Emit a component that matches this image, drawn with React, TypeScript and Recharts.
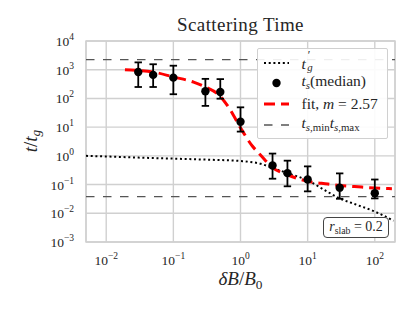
import React from 'react';
import {
  ComposedChart,
  CartesianGrid,
  ErrorBar,
  Line,
  ReferenceArea,
  ReferenceLine,
  Scatter,
  XAxis,
  YAxis,
} from 'recharts';

// median scattering times with their spread
const sampleX = [0.03, 0.05, 0.1, 0.3, 0.5, 1, 3, 5, 10, 30, 100];
const medianT = [830, 660, 530, 178, 167, 15.5, 0.46, 0.25, 0.15, 0.078, 0.05];
const lowerT = [250, 250, 140, 55, 98, 7, 0.16, 0.087, 0.058, 0.032, 0.033];
const upperT = [1800, 1550, 1380, 480, 470, 49, 1.2, 0.68, 0.43, 0.245, 0.15];

// fitted curve, m = 2.57
const fitX = [0.019, 0.05, 0.1, 0.2, 0.3, 0.5, 0.7, 1, 1.5, 2, 3, 5, 10, 20, 30, 50, 100, 180];
const fitT = [1000, 830, 560, 370, 250, 118, 41, 9.5, 2.2, 1.05, 0.39, 0.22, 0.13, 0.104, 0.092, 0.085, 0.076, 0.072];

// t'_g curve
const tgX = [0.005, 0.01, 0.03, 0.1, 0.3, 1, 2, 3, 5, 10, 20, 30, 50, 100, 190];
const tgT = [1.0, 0.95, 0.87, 0.8, 0.74, 0.66, 0.53, 0.38, 0.25, 0.14, 0.055, 0.033, 0.021, 0.0115, 0.0055];

// t_s,min / t_s,max
const tsMin = 0.038;
const tsMax = 2240;

const xTicks = [0.01, 0.1, 1, 10, 100];
const yTicks = [0.001, 0.01, 0.1, 1, 10, 100, 1000, 10000];

const scatterRows = sampleX.map((x, i) => ({
  x,
  y: medianT[i],
  err: [medianT[i] - lowerT[i], upperT[i] - medianT[i]],
}));
const fitRows = fitX.map((x, i) => ({ x, y: fitT[i] }));
const tgRows = tgX.map((x, i) => ({ x, y: tgT[i] }));

const SERIF = '"Liberation Serif", "DejaVu Serif", serif';
const TXT = '#262626';

function expLabel(v: number) {
  const e = Math.round(Math.log10(v));
  return e < 0 ? `\u2212${-e}` : String(e);
}

function XTick({ x, y, payload }: any) {
  return (
    <text x={x} y={y + 21} textAnchor="middle" fontFamily={SERIF} fontSize={13.5} fill={TXT}>
      10
      <tspan dy={-6} fontSize={9.5}>
        {expLabel(payload.value)}
      </tspan>
    </text>
  );
}

function YTick({ x, y, payload }: any) {
  return (
    <text x={x - 10} y={y + 5} textAnchor="end" fontFamily={SERIF} fontSize={13.5} fill={TXT}>
      10
      <tspan dy={-6} fontSize={9.5}>
        {expLabel(payload.value)}
      </tspan>
    </text>
  );
}

const dot = (p: any) => <circle cx={p.cx} cy={p.cy} r={4.2} fill="#000" />;

const sub: React.CSSProperties = { fontSize: '0.7em', verticalAlign: '-0.3em' };

export default function App() {
  return (
    <div style={{ position: 'absolute', left: 0, top: 0, width: 415, height: 312, background: '#fff' }}>
      <ComposedChart width={415} height={312} margin={{ top: 41, right: 20, bottom: 30, left: 0 }}>
        <CartesianGrid stroke="#d0d0d0" strokeWidth={1.4} />
        <XAxis
          dataKey="x"
          type="number"
          scale="log"
          domain={[0.005, 200]}
          ticks={xTicks}
          allowDataOverflow
          axisLine={false}
          tickLine={false}
          tickSize={0}
          height={40}
          tick={<XTick />}
          interval={0}
        />
        <YAxis
          dataKey="y"
          type="number"
          scale="log"
          domain={[0.001, 10000]}
          ticks={yTicks}
          allowDataOverflow
          axisLine={false}
          tickLine={false}
          tickSize={0}
          width={86}
          tick={<YTick />}
          interval={0}
        />
        <ReferenceArea x1={0.005} x2={200} y1={0.001} y2={10000} fill="none" stroke="#d0d0d0" strokeWidth={1.4} />
        <ReferenceLine y={tsMax} stroke="#555" strokeWidth={1.3} strokeDasharray="8.5 8.5" />
        <ReferenceLine y={tsMin} stroke="#555" strokeWidth={1.3} strokeDasharray="8.5 8.5" />
        <Line
          data={tgRows}
          dataKey="y"
          type="monotone"
          stroke="#000"
          strokeWidth={2}
          strokeDasharray="2 2.7"
          dot={false}
          isAnimationActive={false}
        />
        <Line
          data={fitRows}
          dataKey="y"
          type="monotone"
          stroke="#ff0000"
          strokeWidth={3}
          strokeDasharray="11 6"
          dot={false}
          isAnimationActive={false}
        />
        <Scatter data={scatterRows} dataKey="y" shape={dot} isAnimationActive={false}>
          <ErrorBar dataKey="err" direction="y" width={3.7} stroke="#000" strokeWidth={1.8} isAnimationActive={false} />
        </Scatter>
      </ComposedChart>

      <div
        style={{
          position: 'absolute',
          left: 86,
          width: 309,
          top: 14,
          textAlign: 'center',
          fontFamily: SERIF,
          fontSize: 19,
          letterSpacing: 0.4,
          color: TXT,
        }}
      >
        Scattering Time
      </div>

      <div
        style={{
          position: 'absolute',
          left: 86,
          width: 309,
          top: 268,
          textAlign: 'center',
          fontFamily: SERIF,
          fontSize: 19,
          color: TXT,
        }}
      >
        <i>δB</i>/<i>B</i>
        <span style={sub}>0</span>
      </div>

      <div
        style={{
          position: 'absolute',
          left: 32,
          top: 141,
          transform: 'translate(-50%, -50%) rotate(-90deg)',
          fontFamily: SERIF,
          fontSize: 19,
          color: TXT,
          whiteSpace: 'nowrap',
        }}
      >
        <i>t</i>/<i>t</i>
        <i style={sub}>g</i>
      </div>

      <div
        style={{
          position: 'absolute',
          left: 256.5,
          top: 47.5,
          width: 129,
          height: 89,
          background: 'rgba(255,255,255,0.9)',
          border: '1px solid #d0d0d0',
          borderRadius: 2,
          fontFamily: SERIF,
          fontSize: 15.5,
          color: TXT,
        }}
      >
        {[
          {
            icon: <line x1={4} y1={5} x2={29} y2={5} stroke="#000" strokeWidth={2} strokeDasharray="2 2.7" />,
            label: (
              <>
                <i>t</i>
                <span
                  style={{
                    position: 'relative',
                    display: 'inline-block',
                    width: '0.45em',
                    height: '1em',
                    marginLeft: '0.12em',
                  }}
                >
                  <span
                    style={{ position: 'absolute', left: 0, top: '-0.24em', fontSize: '0.75em', lineHeight: 1 }}
                  >
                    ′
                  </span>
                  <i style={{ position: 'absolute', left: '-0.05em', top: '0.82em', fontSize: '0.7em', lineHeight: 1 }}>
                    g
                  </i>
                </span>
              </>
            ),
          },
          {
            icon: <circle cx={16.5} cy={5} r={4.2} fill="#000" />,
            label: (
              <>
                <i>t</i>
                <i style={sub}>s</i>(median)
              </>
            ),
          },
          {
            icon: <line x1={4} y1={5} x2={29} y2={5} stroke="#ff0000" strokeWidth={3} strokeDasharray="11 6" />,
            label: (
              <>
                fit, <i>m</i> = 2.57
              </>
            ),
          },
          {
            icon: <line x1={4} y1={5} x2={29} y2={5} stroke="#555" strokeWidth={1.3} strokeDasharray="8.5 8.5" />,
            label: (
              <>
                <i>t</i>
                <span style={sub}>
                  <i>s</i>,min
                </span>
                <i>t</i>
                <span style={sub}>
                  <i>s</i>,max
                </span>
              </>
            ),
          },
        ].map((row, i) => (
          <div
            key={i}
            style={{ position: 'absolute', left: 0, top: 5 + i * 20.8, height: 18, display: 'flex', alignItems: 'center' }}
          >
            <svg width={40} height={10} style={{ marginLeft: 2 }}>
              {row.icon}
            </svg>
            <span style={{ marginLeft: 2, whiteSpace: 'nowrap', lineHeight: '18px' }}>{row.label}</span>
          </div>
        ))}
      </div>

      <div
        style={{
          position: 'absolute',
          left: 323,
          top: 217,
          width: 66,
          height: 21,
          boxSizing: 'border-box',
          border: '1px solid #444',
          borderRadius: 4,
          background: '#fff',
          fontFamily: SERIF,
          fontSize: 14,
          color: TXT,
          textAlign: 'center',
          lineHeight: '18px',
          whiteSpace: 'nowrap',
        }}
      >
        <i>r</i>
        <span style={sub}>slab</span> = 0.2
      </div>
    </div>
  );
}
